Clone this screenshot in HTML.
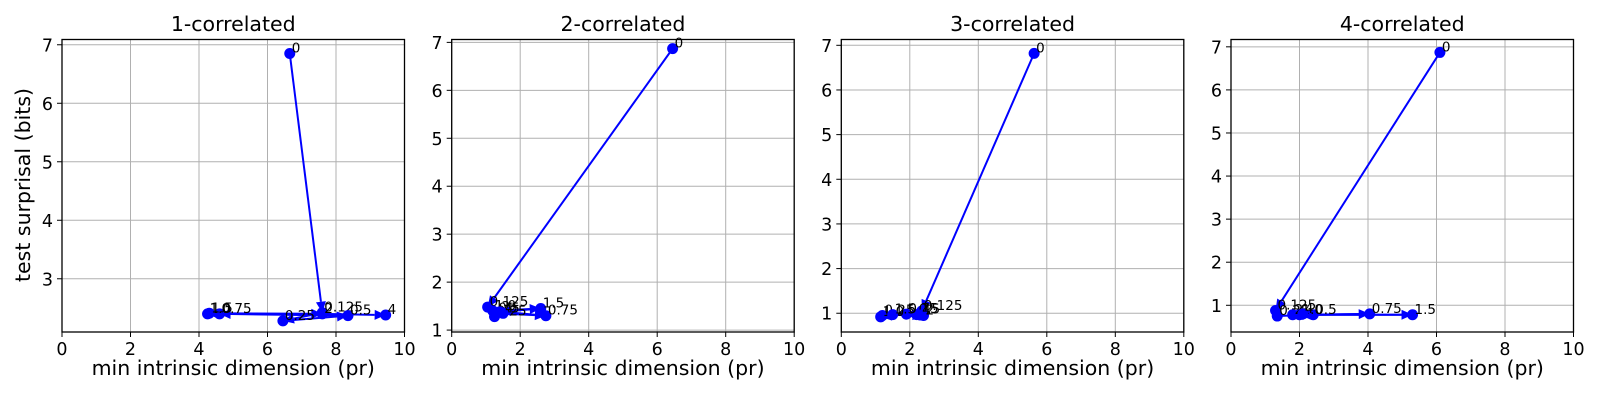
<!DOCTYPE html>
<html><head><meta charset="utf-8"><style>
html,body{margin:0;padding:0;background:#fff;}
svg{display:block;font-family:"DejaVu Sans","Liberation Sans",sans-serif;}
</style></head><body>
<svg id="chart" width="1600" height="400" viewBox="0 0 1600 400" xmlns="http://www.w3.org/2000/svg"></svg>
<script>
const titles = ["1-correlated","2-correlated","3-correlated","4-correlated"];
const pointLabels = ["0","0.125","0.25","0.5","0.75","1.0","1.5","2","4"];
const xP1 = [6.65,7.6,6.45,8.35,4.6,4.25,4.3,7.6,9.45];
const yP1 = [6.85,2.42,2.28,2.37,2.40,2.40,2.41,2.40,2.38];
const xP2 = [6.45,1.05,1.25,1.3,2.75,1.2,2.6,1.4,1.5];
const yP2 = [6.87,1.48,1.28,1.35,1.30,1.40,1.45,1.38,1.35];
const xP3 = [5.63,2.35,1.2,2.2,1.9,1.15,1.5,2.4,2.3];
const yP3 = [6.82,1.05,0.95,0.97,0.98,0.92,0.97,0.95,0.96];
const xP4 = [6.1,1.3,1.35,2.4,4.05,2.0,5.3,1.8,2.1];
const yP4 = [6.87,0.88,0.75,0.78,0.80,0.78,0.78,0.78,0.80];
const xTicks = [0,2,4,6,8,10];
const yTicksP1 = [3,4,5,6,7];
const yTicksOther = [1,2,3,4,5,6,7];
const yRanges = [[2.09,7.09],[0.96,7.06],[0.58,7.13],[0.38,7.17]];

const svg = document.getElementById('chart');
const NS = 'http://www.w3.org/2000/svg';
function mk(tag, attrs, parent){const e=document.createElementNS(NS,tag);for(const k in attrs)e.setAttribute(k,attrs[k]);(parent||svg).appendChild(e);return e;}

const lefts=[62,451.7,841.3,1231];
const W=342.5, TOP=39.5, BOT=332;
const xs=[xP1,xP2,xP3,xP4], ys=[yP1,yP2,yP3,yP4];

for(let p=0;p<4;p++){
  const L=lefts[p];
  const [y0,y1]=yRanges[p];
  const sx=v=>L+v/10*W;
  const sy=v=>BOT-(v-y0)/(y1-y0)*(BOT-TOP);
  const g=mk('g',{});
  
  
  const yt = p===0?yTicksP1:yTicksOther;
  xTicks.forEach(t=>{
    const l=mk('line',{x1:sx(t),x2:sx(t),y1:TOP,y2:BOT,stroke:'#b0b0b0','stroke-width':1},g);
    
    mk('line',{x1:sx(t),x2:sx(t),y1:BOT,y2:BOT+5,stroke:'#000','stroke-width':1},g);
    const tx=mk('text',{x:sx(t),y:BOT+23,'font-size':17.5,'text-anchor':'middle',fill:'#000'},g);
    tx.textContent=t;
    
  });
  yt.forEach(t=>{
    const l=mk('line',{x1:L,x2:L+W,y1:sy(t),y2:sy(t),stroke:'#b0b0b0','stroke-width':1},g);
    
    mk('line',{x1:L-5,x2:L,y1:sy(t),y2:sy(t),stroke:'#000','stroke-width':1},g);
    const tx=mk('text',{x:L-9,y:sy(t)+6.5,'font-size':17.5,'text-anchor':'end',fill:'#000'},g);
    tx.textContent=t;
    
  });
  const fr=mk('rect',{x:L,y:TOP,width:W,height:BOT-TOP,fill:'none',stroke:'#000','stroke-width':1.3},g);
  
  const ti=mk('text',{x:L+W/2,y:31,'font-size':20.5,'text-anchor':'middle',fill:'#000'},g);
  ti.textContent=titles[p];
  
  const xl=mk('text',{x:L+W/2,y:375,'font-size':20.5,'text-anchor':'middle',fill:'#000'},g);
  xl.textContent='min intrinsic dimension (pr)';
  

  const X=xs[p],Y=ys[p];
  for(let i=0;i<X.length-1;i++){
    const ax=sx(X[i]),ay=sy(Y[i]),bx=sx(X[i+1]),by=sy(Y[i+1]);
    const dx=bx-ax,dy=by-ay,len=Math.hypot(dx,dy)||1;
    const ux=dx/len,uy=dy/len;
    const hl=Math.min(11,len), hw=5;
    const bxx=bx-ux*hl,byy=by-uy*hl;
    const ln=mk('line',{x1:ax,y1:ay,x2:bxx,y2:byy,stroke:'#0000ff','stroke-width':2},g);
    
    const hd=mk('polygon',{points:`${bx},${by} ${bxx-uy*hw},${byy+ux*hw} ${bxx+uy*hw},${byy-ux*hw}`,fill:'#0000ff'},g);
    
  }
  for(let i=0;i<X.length;i++){
    const c=mk('circle',{cx:sx(X[i]),cy:sy(Y[i]),r:5.5,fill:'#0000ff'},g);
    
    const t=mk('text',{x:sx(X[i])+2,y:sy(Y[i])-1,'font-size':13.5,fill:'#000'},g);
    t.textContent=pointLabels[i];
    
  }
}
const yl=mk('text',{x:0,y:0,'font-size':20.5,'text-anchor':'middle',fill:'#000',transform:'translate(30,185) rotate(-90)'});
yl.textContent='test surprisal (bits)';


</script>
</body></html>
